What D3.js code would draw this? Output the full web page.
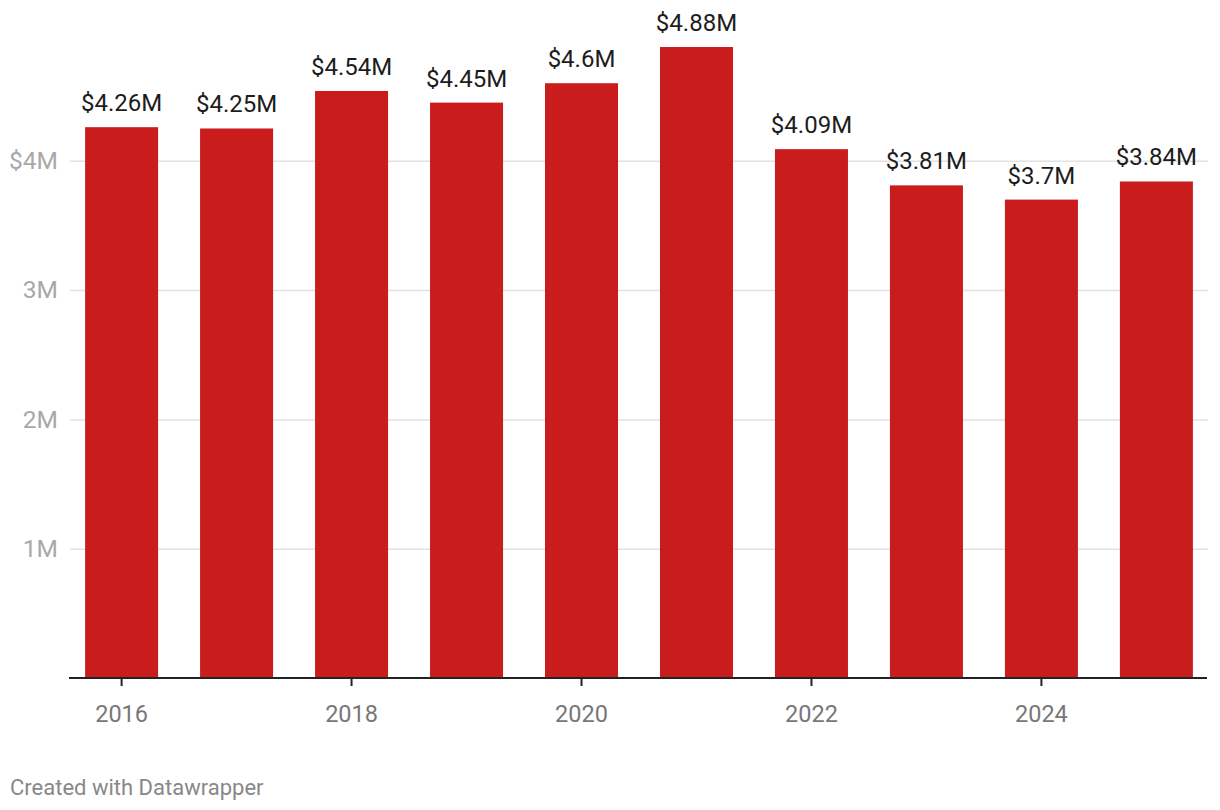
<!DOCTYPE html>
<html><head><meta charset="utf-8">
<script src="https://cdn.jsdelivr.net/npm/d3@7"></script>
<style>
body{margin:0;background:#fff;}
svg{display:block;font-family:Roboto, "Noto Sans", sans-serif;}
</style></head>
<body>
<svg id="chart" width="1220" height="810"></svg>
<script>
const years = ["2016","2017","2018","2019","2020","2021","2022","2023","2024","2025"];
const values = [4.26, 4.25, 4.54, 4.45, 4.6, 4.88, 4.09, 3.81, 3.7, 3.84];
const valueLabels = ["$4.26M","$4.25M","$4.54M","$4.45M","$4.6M","$4.88M","$4.09M","$3.81M","$3.7M","$3.84M"];
const yTicks = [1, 2, 3, 4];
const yTickLabels = ["1M","2M","3M","$4M"];
const xTickYears = ["2016","2018","2020","2022","2024"];

const svg = d3.select("#chart");
const left = 69, right = 1209, baseline = 678;

const x = d3.scaleBand().domain(years).range([left, right]).paddingInner(0.365).paddingOuter(0.14);
const y = d3.scaleLinear().domain([0, 4]).range([baseline, baseline - 4*129.3]);

// gridlines
const yAxis = d3.axisLeft(y).tickValues(yTicks).tickSize(-(right - left - 2)).tickFormat((d,i)=>yTickLabels[i]);
const gy = svg.append("g").attr("transform", `translate(${left+1},0)`).call(yAxis);
gy.select(".domain").remove();
gy.selectAll(".tick line").attr("stroke", "#e2e2e2").attr("stroke-width", 1.5);
gy.selectAll(".tick text").attr("x", -12).attr("fill", "#a8a8a8").attr("font-size", 24.5).style("font-family","Roboto");

// bars
svg.append("g").selectAll("rect").data(years).join("rect")
  .attr("x", d => x(d)).attr("width", x.bandwidth())
  .attr("y", (d,i) => y(values[i])).attr("height", (d,i) => baseline - y(values[i]))
  .attr("fill", "#c91d1d");

// value labels
svg.append("g").selectAll("text").data(years).join("text")
  .attr("x", d => x(d) + x.bandwidth()/2)
  .attr("y", (d,i) => y(values[i]) - 16)
  .attr("text-anchor", "middle")
  .attr("font-size", 24).attr("fill", "#1d1d1d")
  .text((d,i) => valueLabels[i]);

// x axis
const xAxis = d3.axisBottom(x).tickValues(xTickYears).tickSize(8).tickSizeOuter(0).tickPadding(19.5);
const gx = svg.append("g").attr("transform", `translate(0,${baseline})`).call(xAxis);
gx.select(".domain").attr("stroke", "#222").attr("stroke-width", 2).attr("d", `M${left},0H${right-2}`);
gx.selectAll(".tick line").attr("stroke", "#222").attr("stroke-width", 2);
gx.selectAll(".tick text").attr("fill", "#777").attr("font-size", 23.5).style("font-family","Roboto");

// footer
svg.append("text").attr("x", 10).attr("y", 795).attr("font-size", 22).attr("fill", "#888").text("Created with Datawrapper");
</script>
</body></html>
